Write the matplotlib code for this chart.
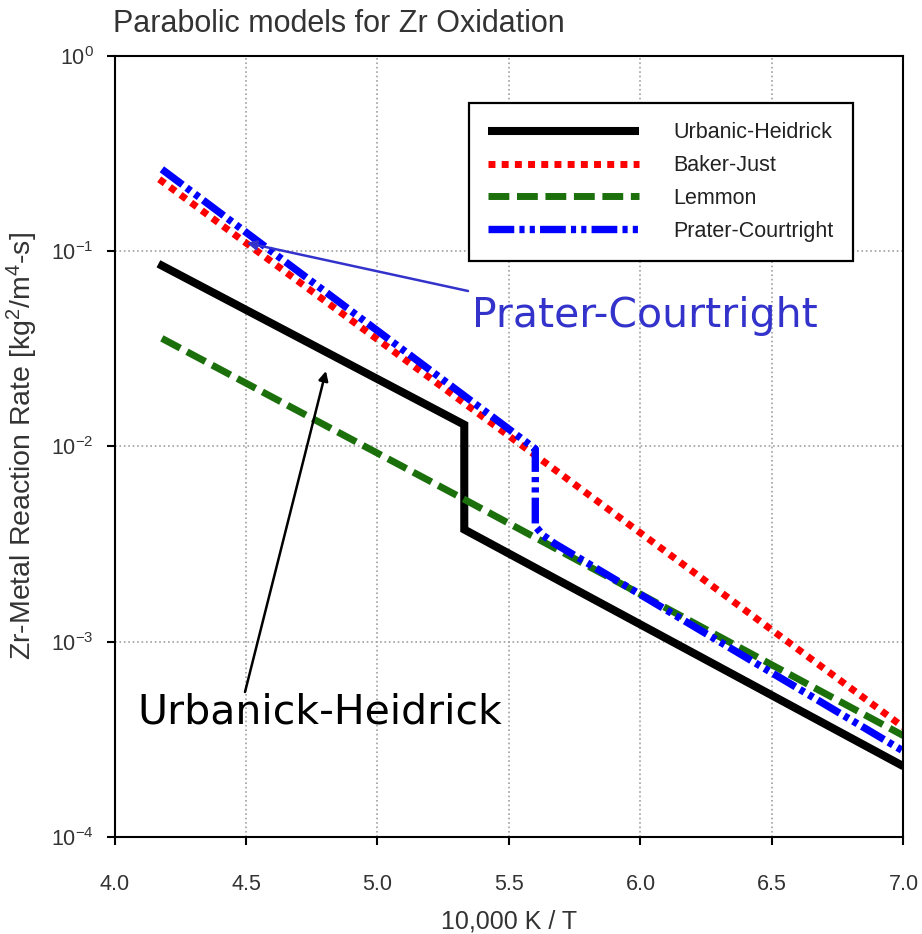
import matplotlib
matplotlib.use('Agg')
import matplotlib.pyplot as plt
from matplotlib.ticker import LogLocator, NullLocator, MultipleLocator, FormatStrFormatter

plt.rcParams['font.family'] = 'Liberation Sans'
plt.rcParams['mathtext.default'] = 'regular'

# Data (x = 10,000 K / T, y = rate in kg^2/m^4-s)
uh_x = [4.167, 5.33, 5.33, 7.0]
uh_y = [0.086, 0.0129, 0.00375, 2.3e-4]

bj_x = [4.17, 5.63, 7.0]
bj_y = [0.233, 0.0084, 3.65e-4]

lem_x = [4.18, 5.33, 7.0]
lem_y = [0.0357, 0.00535, 3.3e-4]

pc_x = [4.18, 5.60, 5.60, 5.63, 5.67, 7.0]
pc_y = [0.262, 0.0097, 0.0039, 0.0035, 0.0032, 2.75e-4]

labels = ['Urbanic-Heidrick', 'Baker-Just', 'Lemmon', 'Prater-Courtright']

fig = plt.figure(figsize=(9.22, 9.34), dpi=100)
ax = fig.add_axes([0.1242, 0.1039, 0.8557, 0.8365])

ax.plot(uh_x, uh_y, color='black', lw=5.8, solid_joinstyle='miter',
        solid_capstyle='butt', label=labels[0])
ax.plot(bj_x, bj_y, color='#ff0000', lw=5.0, linestyle=(0, (1, 0.9)),
        dash_capstyle='butt', label=labels[1])
ax.plot(lem_x, lem_y, color='#1b700c', lw=5.0, linestyle=(0, (3, 1.1)),
        dash_capstyle='butt', label=labels[2])
ax.plot(pc_x, pc_y, color='#0000ff', lw=5.3,
        linestyle=(0, (3.5, 0.7, 0.7, 0.7, 0.7, 0.7)),
        dash_capstyle='butt', label=labels[3])

ax.set_yscale('log')
ax.set_xlim(4.0, 7.0)
ax.set_ylim(1e-4, 1e0)
ax.xaxis.set_major_locator(MultipleLocator(0.5))
ax.xaxis.set_major_formatter(FormatStrFormatter('%.1f'))
ax.yaxis.set_major_locator(LogLocator(base=10, numticks=10))
ax.yaxis.set_minor_locator(NullLocator())

ax.set_axisbelow(True)
ax.grid(True, which='major', linestyle=':', color='#a0a0a0', lw=1.2)

for s in ax.spines.values():
    s.set_linewidth(1.5)
    s.set_color('black')

ax.tick_params(axis='both', direction='out', length=6, width=1.5,
               labelsize=15.5, labelcolor='#333333')
ax.tick_params(axis='x', pad=21)
ax.tick_params(axis='y', pad=9)

ax.set_xlabel('10,000 K / T', fontsize=18, color='#333333')
ax.set_ylabel('Zr-Metal Reaction Rate [kg$^2$/m$^4$-s]', fontsize=20.5, color='#333333')
ax.xaxis.set_label_coords(0.5, -0.093)
ax.yaxis.set_label_coords(-0.095, 0.5)

fig.text(113 / 922, 1 - 24 / 934, 'Parabolic models for Zr Oxidation',
         fontsize=22, color='#333333', ha='left', va='center')

leg = ax.legend(loc='upper right', bbox_to_anchor=(0.936, 0.9395),
                borderaxespad=0, fontsize=15.5, handlelength=7.0,
                handletextpad=1.6, labelspacing=0.55, borderpad=0.9,
                fancybox=False, framealpha=1, edgecolor='black')
leg.get_frame().set_linewidth(1.6)
for t in leg.get_texts():
    t.set_color('#222222')

# Callouts
ax.annotate('', xy=(4.503, 0.110), xycoords='data',
            xytext=(468 / 922, 1 - 291 / 934), textcoords='figure fraction',
            arrowprops=dict(arrowstyle='-|>', color='#3333cc', lw=1.8,
                            mutation_scale=14, shrinkA=0, shrinkB=0))
fig.text(472 / 922, 1 - 327 / 934, 'Prater-Courtright', family='DejaVu Sans',
         fontsize=29.5, color='#3333cc', ha='left', va='baseline')

ax.annotate('', xy=(4.804, 0.0243), xycoords='data',
            xytext=(245 / 922, 1 - 692 / 934), textcoords='figure fraction',
            arrowprops=dict(arrowstyle='-|>', color='black', lw=1.8,
                            mutation_scale=14, shrinkA=0, shrinkB=0))
fig.text(137 / 922, 1 - 723 / 934, 'Urbanick-Heidrick', family='DejaVu Sans',
         fontsize=29.5, color='black', ha='left', va='baseline')

fig.savefig('out.png', dpi=100)
